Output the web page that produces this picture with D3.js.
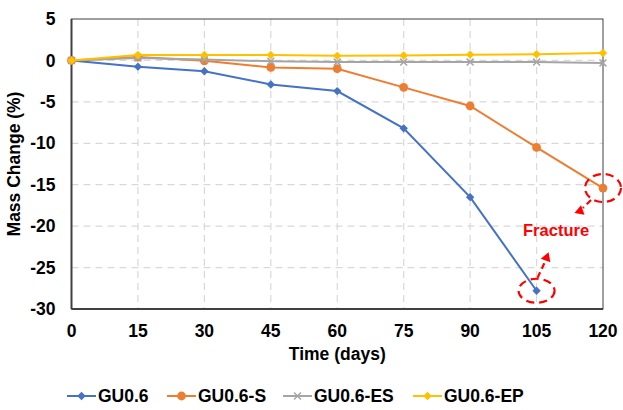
<!DOCTYPE html>
<meta charset="utf-8">
<script src="https://d3js.org/d3.v7.min.js"></script>
<style>
  body { margin: 0; background: #fff; }
  text { font-family: "Liberation Sans", Arial, sans-serif; font-weight: bold; }
</style>
<div id="chart"></div>
<script>
// data
const days = [0, 15, 30, 45, 60, 75, 90, 105, 120];
const gu06   = [0, -0.75, -1.3, -2.9, -3.7, -8.2, -16.5, -27.8];
const gu06S  = [0, 0.4, -0.05, -0.85, -1.0, -3.25, -5.5, -10.5, -15.4];
const gu06ES = [0, 0.3, 0.1, -0.1, -0.2, -0.2, -0.2, -0.2, -0.3];
const gu06EP = [0, 0.65, 0.65, 0.65, 0.55, 0.6, 0.7, 0.75, 0.9];
const yTicks = [5, 0, -5, -10, -15, -20, -25, -30];

const series = [
  {name: "GU0.6",    values: gu06,   color: "#4472C4", marker: "diamond"},
  {name: "GU0.6-S",  values: gu06S,  color: "#ED7D31", marker: "circle"},
  {name: "GU0.6-ES", values: gu06ES, color: "#A5A5A5", marker: "cross"},
  {name: "GU0.6-EP", values: gu06EP, color: "#FFC000", marker: "diamond"}
];

const W = 623, H = 410;
const margin = {top: 19, right: 20, bottom: 101, left: 71.5};
const width = W - margin.left - margin.right,
      height = H - margin.top - margin.bottom;
const fs = 17.5;

const svg = d3.select("#chart").append("svg")
  .attr("width", W).attr("height", H);
const g = svg.append("g")
  .attr("transform", `translate(${margin.left},${margin.top})`);

const x = d3.scaleLinear().domain([0, 120]).range([0, width]);
const y = d3.scaleLinear().domain([-30, 5]).range([height, 0]);

// grid
g.append("g").selectAll("line").data(days.slice(1, -1)).join("line")
  .attr("x1", d => x(d)).attr("x2", d => x(d))
  .attr("y1", 0).attr("y2", height)
  .attr("stroke", "#d9d9d9").attr("stroke-width", 1.2).attr("stroke-dasharray", "7,5");
g.append("g").selectAll("line").data(yTicks.slice(1, -1)).join("line")
  .attr("x1", 0).attr("x2", width)
  .attr("y1", d => y(d)).attr("y2", d => y(d))
  .attr("stroke", "#d9d9d9").attr("stroke-width", 1.2).attr("stroke-dasharray", "7,5");

// frame
g.append("rect").attr("width", width).attr("height", height)
  .attr("fill", "none").attr("stroke", "#404040").attr("stroke-width", 1);
g.append("line").attr("x1", 0).attr("x2", 0).attr("y1", 0).attr("y2", height)
  .attr("stroke", "#404040").attr("stroke-width", 2);
g.append("line").attr("x1", 0).attr("x2", width).attr("y1", height).attr("y2", height)
  .attr("stroke", "#404040").attr("stroke-width", 2);

// tick labels
g.append("g").selectAll("text").data(days).join("text")
  .attr("x", d => x(d)).attr("y", height + 28)
  .attr("text-anchor", "middle").attr("font-size", fs).attr("fill", "#000")
  .text(d => d);
g.append("g").selectAll("text").data(yTicks).join("text")
  .attr("x", -16).attr("y", d => y(d)).attr("dy", "0.35em")
  .attr("text-anchor", "end").attr("font-size", fs).attr("fill", "#000")
  .text(d => d);

// axis titles
g.append("text").attr("x", width / 2).attr("y", height + 51)
  .attr("text-anchor", "middle").attr("font-size", fs).text("Time (days)");
g.append("text").attr("transform", `translate(-52,${height / 2}) rotate(-90)`)
  .attr("text-anchor", "middle").attr("font-size", fs).text("Mass Change (%)");

function drawMarker(sel, type, color, size) {
  if (type === "circle") {
    sel.append("circle").attr("r", size * 0.8).attr("fill", color);
  } else if (type === "diamond") {
    sel.append("path").attr("d", d3.symbol(d3.symbolDiamond2, size * size * 1.8)).attr("fill", color);
  } else {
    sel.append("path").attr("d", d3.symbol(d3.symbolX, size * size * 1.3))
      .attr("fill", "none").attr("stroke", color).attr("stroke-width", 1.5);
  }
}

const line = d3.line().x((d, i) => x(days[i])).y(d => y(d));
series.forEach(s => {
  g.append("path").datum(s.values)
    .attr("fill", "none").attr("stroke", s.color).attr("stroke-width", 2)
    .attr("d", line);
  const msize = s.marker === "circle" ? 5.5 : 5;
  g.append("g").selectAll("g").data(s.values).join("g")
    .attr("transform", (d, i) => `translate(${x(days[i])},${y(d)})`)
    .each(function() { drawMarker(d3.select(this), s.marker, s.color, msize); });
});

// fracture annotations
const red = "#FF0000";
const ann = g.append("g");
const p1 = [x(105), y(gu06[7])], p2 = [x(120), y(gu06S[8])];
ann.append("ellipse").attr("cx", p1[0]).attr("cy", p1[1]).attr("rx", 18).attr("ry", 12)
  .attr("fill", "none").attr("stroke", red).attr("stroke-width", 2.2).attr("stroke-dasharray", "8,5");
ann.append("ellipse").attr("cx", p2[0]).attr("cy", p2[1]).attr("rx", 18).attr("ry", 14)
  .attr("fill", "none").attr("stroke", red).attr("stroke-width", 2.2).attr("stroke-dasharray", "8,5");
ann.append("line").attr("x1", p1[0] + 1).attr("y1", p1[1] - 13).attr("x2", p1[0] + 8).attr("y2", p1[1] - 28)
  .attr("stroke", red).attr("stroke-width", 2.2).attr("stroke-dasharray", "6,4");
ann.append("path").attr("d", d3.symbol(d3.symbolTriangle, 45))
  .attr("transform", `translate(${p1[0] + 10},${p1[1] - 33}) rotate(20)`).attr("fill", red);
ann.append("line").attr("x1", p2[0] - 12).attr("y1", p2[1] + 12).attr("x2", p2[0] - 20).attr("y2", p2[1] + 20)
  .attr("stroke", red).attr("stroke-width", 2.2).attr("stroke-dasharray", "6,4");
ann.append("path").attr("d", d3.symbol(d3.symbolTriangle, 45))
  .attr("transform", `translate(${p2[0] - 23},${p2[1] + 23}) rotate(-110)`).attr("fill", red);
ann.append("text").attr("x", x(109.4)).attr("y", y(-21.2))
  .attr("text-anchor", "middle").attr("font-size", 16.5).attr("fill", red).text("Fracture");

// legend
const legendX = [67, 167, 283, 413];
const lg = svg.append("g").attr("transform", "translate(0,396)");
series.forEach((s, i) => {
  const it = lg.append("g").attr("transform", `translate(${legendX[i]},0)`);
  it.append("line").attr("x1", 0).attr("x2", 29).attr("stroke", s.color).attr("stroke-width", 2);
  const m = it.append("g").attr("transform", "translate(14.5,0)");
  drawMarker(m, s.marker, s.color, s.marker === "circle" ? 5.5 : 5);
  it.append("text").attr("x", 31).attr("dy", "0.35em").attr("font-size", fs).text(s.name);
});
</script>
